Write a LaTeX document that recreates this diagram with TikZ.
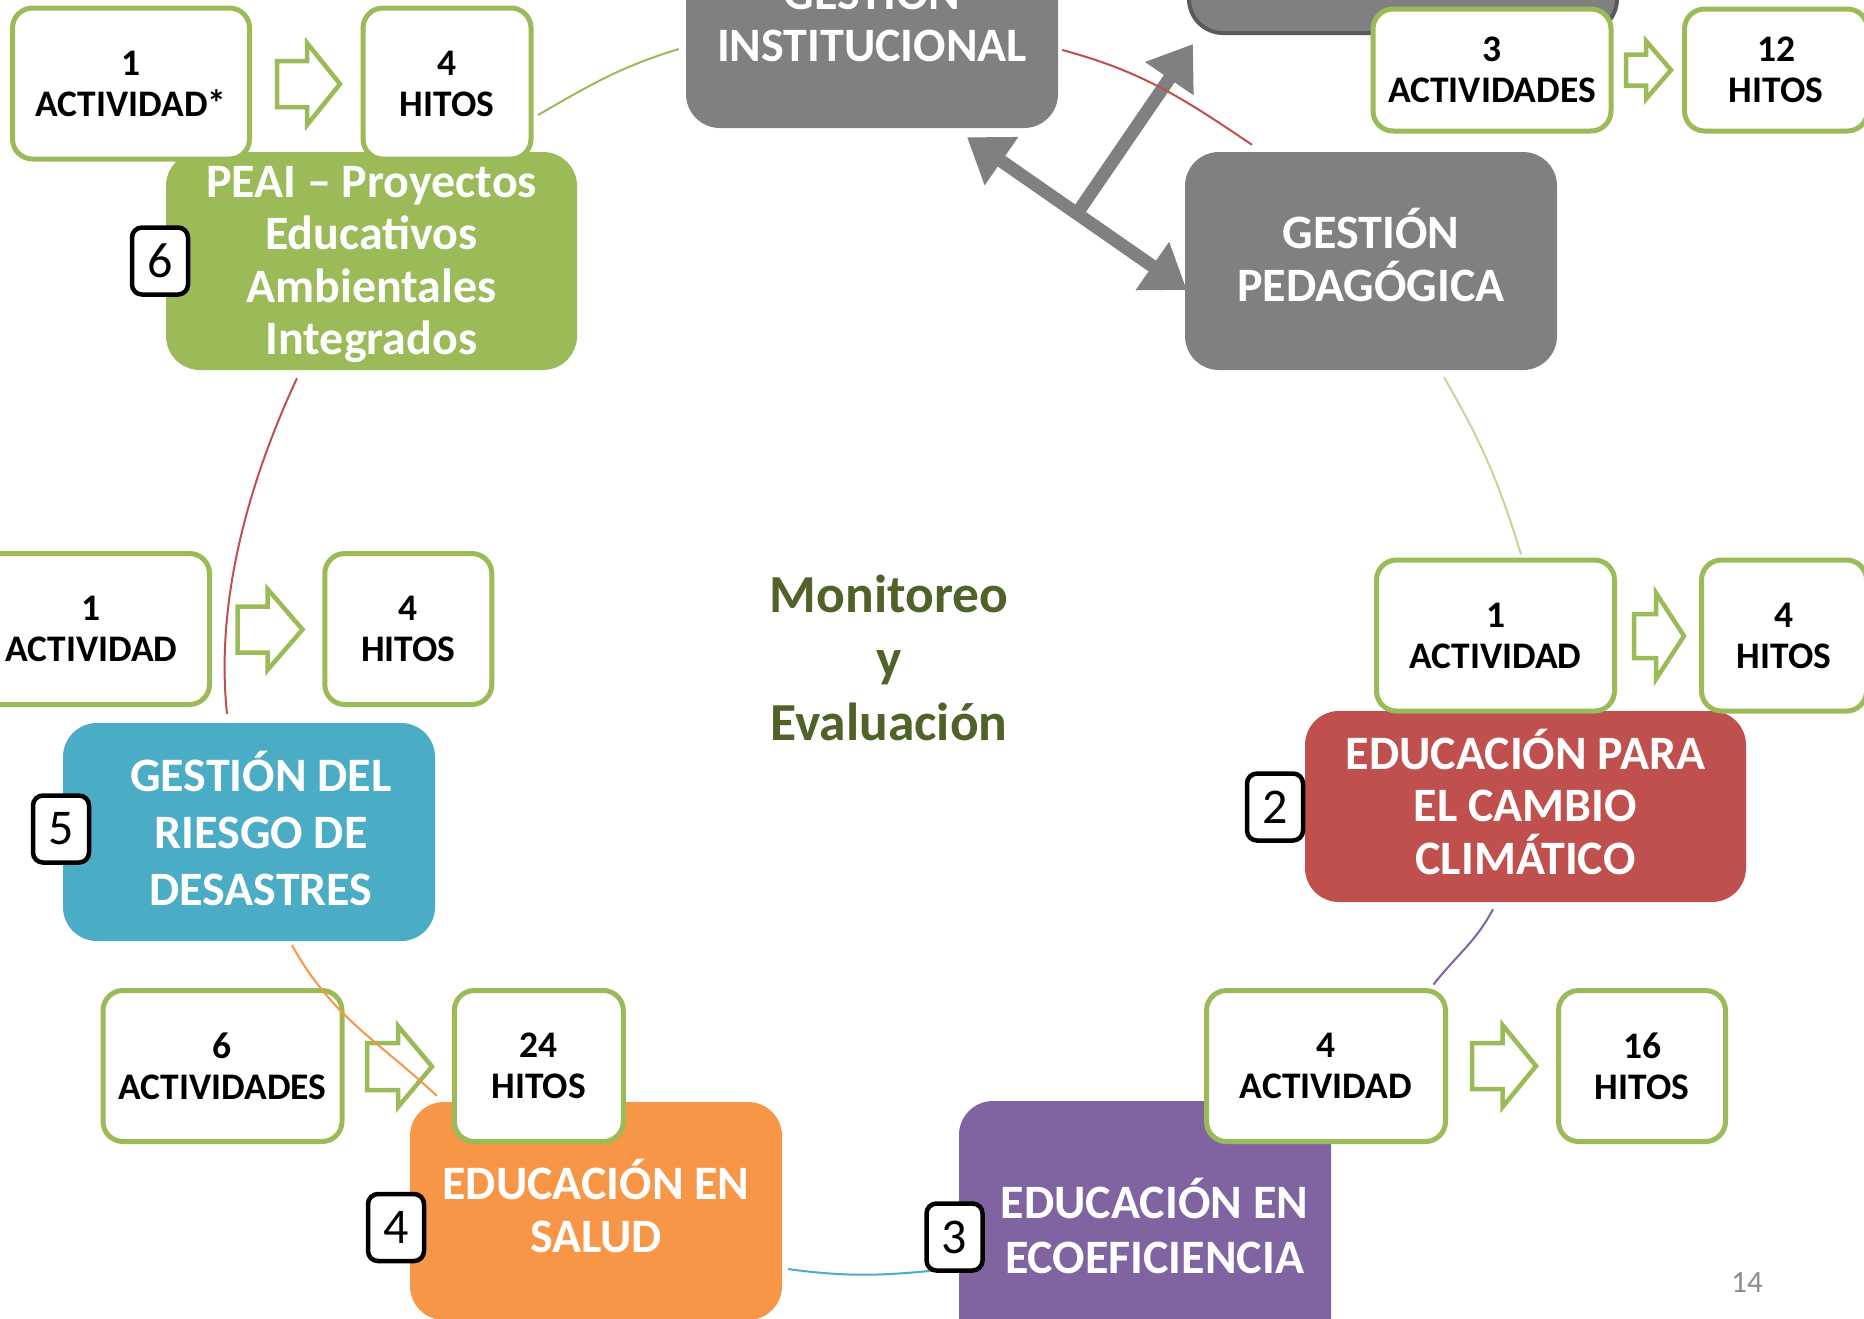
\documentclass[tikz,border=0pt]{standalone}
\usepackage{fontspec}
\setmainfont{Carlito}
\usetikzlibrary{arrows.meta,calc}

\definecolor{cgray}{HTML}{808080}
\definecolor{cgrayd}{HTML}{5A5A5A}
\definecolor{cgreen}{HTML}{9BBB59}
\definecolor{cgreenl}{HTML}{C3D69B}
\definecolor{cblue}{HTML}{4BACC6}
\definecolor{cred}{HTML}{C0504D}
\definecolor{corange}{HTML}{F79646}
\definecolor{cpurple}{HTML}{8064A2}
\definecolor{colive}{HTML}{4F6228}
\definecolor{cpage}{HTML}{8C8C8C}

\tikzset{
  bigbox/.style={rounded corners=34pt, inner sep=0pt},
  bigtext/.style={inner sep=0pt, text=white, align=center,
    font=\fontsize{48}{#1}\selectfont\bfseries},
  bigtext/.default=54,
  lblbox/.style={draw=cgreen, line width=5pt, fill=white, rounded corners=20pt,
    inner sep=0pt, align=center, font=\fontsize{37.5}{41}\selectfont\bfseries,
    minimum height=151pt},
  badge/.style={draw=black, line width=4.5pt, fill=white, rounded corners=10pt,
    inner sep=0pt, minimum width=56pt, minimum height=67pt,
    font=\fontsize{50}{50}\selectfont},
  arcline/.style={line width=2pt},
  bigarrow/.style={line width=13pt, draw=cgray},
  gtip/.tip={Triangle[length=42pt,width=56pt]},
  harrowline/.style={draw=cgreen, line width=4.5pt, fill=white},
  pics/harrow/.style n args={4}{code={
    \draw[harrowline] (-#1/2,#4/2) -- ({#1/2-#2},#4/2) -- ({#1/2-#2},#3/2)
      -- (#1/2,0) -- ({#1/2-#2},-#3/2) -- ({#1/2-#2},-#4/2) -- (-#1/2,-#4/2) -- cycle;
  }},
}

\begin{document}
\begin{tikzpicture}[x=1pt,y=1pt]
\useasboundingbox (0,0) rectangle (1864,-1318);
\fill[white] (0,0) rectangle (1864,-1318);
\clip (0,0) rectangle (1864,-1318);

% main boxes
\node[bigbox, fill=cgray, minimum width=372pt, minimum height=218pt] (gi) at (872,-19) {};
\node[bigbox, fill=cgray, draw=cgrayd, line width=4pt, minimum width=428pt, minimum height=218pt] (gtr) at (1403,76) {};
\node[bigbox, fill=cgray, minimum width=372pt, minimum height=218pt] (gp) at (1371,-261) {};
\node[bigbox, fill=cgreen, minimum width=411pt, minimum height=218pt] (peai) at (371.5,-261) {};
\node[bigbox, fill=cblue, minimum width=372pt, minimum height=218pt] (riesgo) at (249,-832) {};
\node[bigbox, fill=cred, minimum width=441pt, minimum height=191pt] (cc) at (1525.5,-806.5) {};
\node[bigbox, fill=corange, minimum width=372pt, minimum height=218pt] (salud) at (596,-1211) {};
\node[bigbox, fill=cpurple, minimum width=372pt, minimum height=256pt] (eco) at (1145,-1229) {};

\node[bigtext=52] (giT) at ($(gi)+(0,3.6)$) {GESTIÓN\\INSTITUCIONAL};
\node[bigtext=53.5] (gpT) at ($(gp)+(0,6)$) {GESTIÓN\\PEDAGÓGICA};
\node[bigtext=52.3] (peaiT) at ($(peai)+(0,-3.6)$) {PEAI – Proyectos\\Educativos\\Ambientales\\Integrados};
\node[bigtext=57] (riesgoT) at ($(riesgo)+(12,3.6)$) {GESTIÓN DEL\\RIESGO DE\\DESASTRES};
\node[bigtext=52.3] (ccT) at ($(cc)+(0,4.8)$) {EDUCACIÓN PARA\\EL CAMBIO\\CLIMÁTICO};
\node[bigtext=53.5] (saludT) at ($(salud)+(0,4.8)$) {EDUCACIÓN EN\\SALUD};
\node[bigtext=55.5] (ecoT) at ($(eco)+(9.5,3)$) {EDUCACIÓN EN\\ECOEFICIENCIA};

% thick gray arrows
\coordinate (t1) at ($(gi.south)+(95,-9)$);
\coordinate (t2) at ($(gp.west)+(2,-29)$);
\coordinate (t3) at ($(gtr.south west)+(6,-9)$);
\draw[bigarrow, gtip-gtip] (t1) -- (t2);
\draw[bigarrow, -gtip] ($(t1)!0.5!(t2)$) -- (t3);

% activity / milestone boxes
\node[lblbox, minimum width=237pt] (a6) at (131,-83.5) {1\\ACTIVIDAD*};
\node[lblbox, minimum width=168pt] (h6) at (447,-83.5) {4\\HITOS};
\node[lblbox, minimum width=238pt, minimum height=122pt] (a1) at (1492,-70) {3\\ACTIVIDADES};
\node[lblbox, minimum width=183pt, minimum height=122pt] (h1) at (1776,-70) {12\\HITOS};
\node[lblbox, minimum width=238pt] (a2) at (1495.5,-635.5) {1\\ACTIVIDAD};
\node[lblbox, minimum width=165pt] (h2) at (1784,-635.5) {4\\HITOS};
\node[lblbox, minimum width=236pt] (a5) at (91.5,-629) {1\\ACTIVIDAD};
\node[lblbox, minimum width=167pt] (h5) at (408.3,-629) {4\\HITOS};
\node[lblbox, minimum width=239pt] (a4) at (222.5,-1066) {6\\ACTIVIDADES};
\node[lblbox, minimum width=169pt] (h4) at (538.8,-1066) {24\\HITOS};
\node[lblbox, minimum width=239pt] (a3) at (1326,-1066) {4\\ACTIVIDAD};
\node[lblbox, minimum width=167pt] (h3) at (1642,-1066) {16\\HITOS};

% hollow arrows
\pic (ar6) at (308.5,-84) {harrow={63}{33}{82}{46}};
\pic (ar1) at (1648.5,-70) {harrow={45}{25}{58}{31}};
\pic (ar2) at (1659,-636) {harrow={50}{28}{86}{44}};
\pic (ar5) at (270,-629.5) {harrow={65}{35}{81}{46}};
\pic (ar4) at (399.5,-1066.5) {harrow={65}{34}{81}{47}};
\pic (ar3) at (1504,-1066) {harrow={64}{33.5}{82}{46}};

% cycle arcs
\draw[arcline, cred] ($(gi.east)+(4,-31)$) to[out=-15,in=146] ($(gp.north)+(-119,7)$);
\draw[arcline, cgreen] ($(h6.east)+(4.5,-31.5)$) to[out=30,in=197] ($(gi.west)+(-7,-30)$);
\draw[arcline, cred] ($(peai.south)+(-74.5,-8)$) to[out=245,in=96,looseness=0.85] ($(riesgo.north)+(-22,9)$);
\draw[arcline, corange] ($(riesgo.south)+(43,-4)$) to[out=-61,in=137] ($(salud.north west)+(27,6)$);
\draw[arcline, cblue] ($(salud.east)+(6,-58)$) to[out=-8,in=186] ($(eco.west)+(0,-39)$);
\draw[arcline, cpurple] ($(cc.south)+(-32.5,-7)$) to[out=-118,in=52] ($(a3.north east)+(-14.5,3.5)$);
\draw[arcline, cgreenl] ($(gp.south)+(73,-7)$) to[out=-60,in=107] ($(a2.north)+(25.5,3)$);

% number badges
\node[badge] (b6) at (160,-261) {6};
\node[badge] (b5) at (61,-829) {5};
\node[badge] (b2) at (1275,-807) {2};
\node[badge] (b4) at (396,-1227.5) {4};
\node[badge] (b3) at (954.5,-1237) {3};

% centre text and page number
\node[font=\fontsize{53.5}{64}\selectfont\bfseries, text=colive, align=center] (me) at (889,-658) {Monitoreo\\y\\Evaluación};
\node[font=\fontsize{31}{31}\selectfont, text=cpage] (pg) at (1747,-1283) {14};
\end{tikzpicture}
\end{document}
